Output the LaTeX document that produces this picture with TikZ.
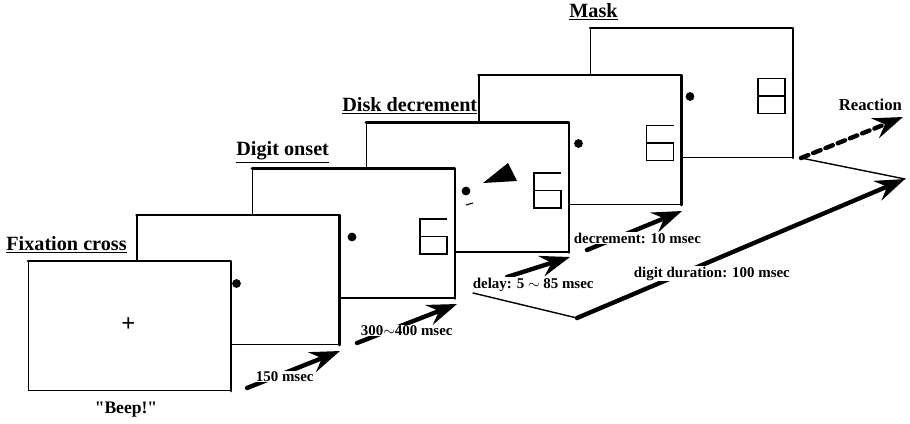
\documentclass[tikz,border=0pt]{standalone}
\usepackage{fontspec}
\setmainfont{Liberation Serif}
\usetikzlibrary{
    arrows.meta,
    calc
}

\begin{document}
\begin{tikzpicture}[
    x=0.02cm,y=-0.02cm,
    screen/.style={draw,fill=white,line width=0.6pt,minimum width=4.04cm,minimum height=2.58cm,inner sep=0pt},
    rim/.style={line width=1.6pt,line cap=round,line join=round},
    fixdot/.style={circle,fill=black,minimum size=5pt,inner sep=0pt},
    digit/.style={line width=0.7pt},
    screen title/.style={anchor=base west,inner sep=0pt,font=\fontsize{11.5}{13}\selectfont\bfseries},
    timing/.style={anchor=base west,inner sep=0.3pt,fill=white,font=\fontsize{8.5}{10}\selectfont\bfseries},
    timearrow/.style={line width=2.5pt,line cap=round,-{Stealth[length=17pt,width=12pt,inset=6pt]}},
    link line/.style={line width=0.8pt,line cap=round}
]
    \useasboundingbox (0,0) rectangle (910,423);

    % Screens, back to front: the mask first, the fixation cross last.
    \foreach \n/\cx/\cy in {6/691.5/93,5/580/140,4/467.5/187.5,3/353.5/233.5,2/238/280,1/129.5/326} {
        \node[screen] (f\n) at (\cx,\cy) {};
        \draw[rim] (f\n.north west) -- (f\n.north east) -- (f\n.south east);
    }

    % Fixation point and digits.
    \node[font=\fontsize{14}{14}\selectfont\bfseries] (cross) at ($(f1.center)+(-1,-1)$) {+};
    \foreach \n in {2,...,6}
        \node[fixdot] (p\n) at ($(f\n.center)+(-1.5,3.5)$) {};
    \foreach \n in {3,4,5}
        \draw[digit,shift={(f\n.center)}] (93.5,-14.5) -- (66.5,-14.5) -- (66.5,20.5)
            -- (93.5,20.5) -- (93.5,3) -- (66.5,3);
    \draw[digit,shift={(f6.center)}] (66.5,-14.5) rectangle (93.5,20.5) (66.5,3) -- (93.5,3);

    % Decrement wedge beside the disk.
    \fill[shift={(f4.center)}] (15.5,-4.5) -- (40.5,-24.5) -- (49.5,-6.5) -- cycle;
    \draw[line width=0.6pt,shift={(f4.center)}] (-1.5,17.5) -- (5.5,15.5);

    % Screen titles.
    \node[screen title] (t1) at (6,250) {\underline{Fixation cross}};
    \node[screen title] (t3) at (236,155) {\underline{Digit onset}};
    \node[screen title] (t4) at (342,111) {\underline{Disk decrement}};
    \node[screen title] (t6) at (569,17) {\underline{Mask}};
    \node[font=\fontsize{10}{12}\selectfont\bfseries] (beep) at (126,410) {\textquotedbl Beep!\textquotedbl};

    % Timing arrows.
    \foreach \i/\ax/\ay/\bx/\by in {1/247/388/340/351,2/357/343/457/304,3/507/277/570/257,4/587/250/682/211} {
        \coordinate (a\i) at (\ax,\ay);
        \coordinate (b\i) at (\bx,\by);
        \draw[timearrow] (a\i) -- (b\i);
    }
    \node[timing] (l1) at (255,381) {150 msec};
    \node[timing] (l2) at (360,335) {300$\sim$400 msec};
    \node[timing] (l3) at (472,288) {delay: 5 $\sim$ 85 msec};
    \node[timing] (l4) at (573,243) {decrement: 10 msec};

    % Digit duration and reaction.
    \coordinate (d0) at (473,293);
    \coordinate (d1) at (577,318);
    \coordinate (d2) at (905,179);
    \coordinate (d3) at (801,158);
    \coordinate (r)  at (903,117);
    \draw[link line] (d0) -- (d1);
    \draw[timearrow] (d1) -- (d2);
    \draw[link line] (d2) -- (d3);
    \draw[timearrow,dash pattern=on 4.5pt off 3pt] (d3) -- (r);
    \node[timing] (l5) at (633,277) {digit duration: 100 msec};
    \node[timing,font=\fontsize{9.5}{11}\selectfont\bfseries] (react) at (838,110) {Reaction};
\end{tikzpicture}
\end{document}
